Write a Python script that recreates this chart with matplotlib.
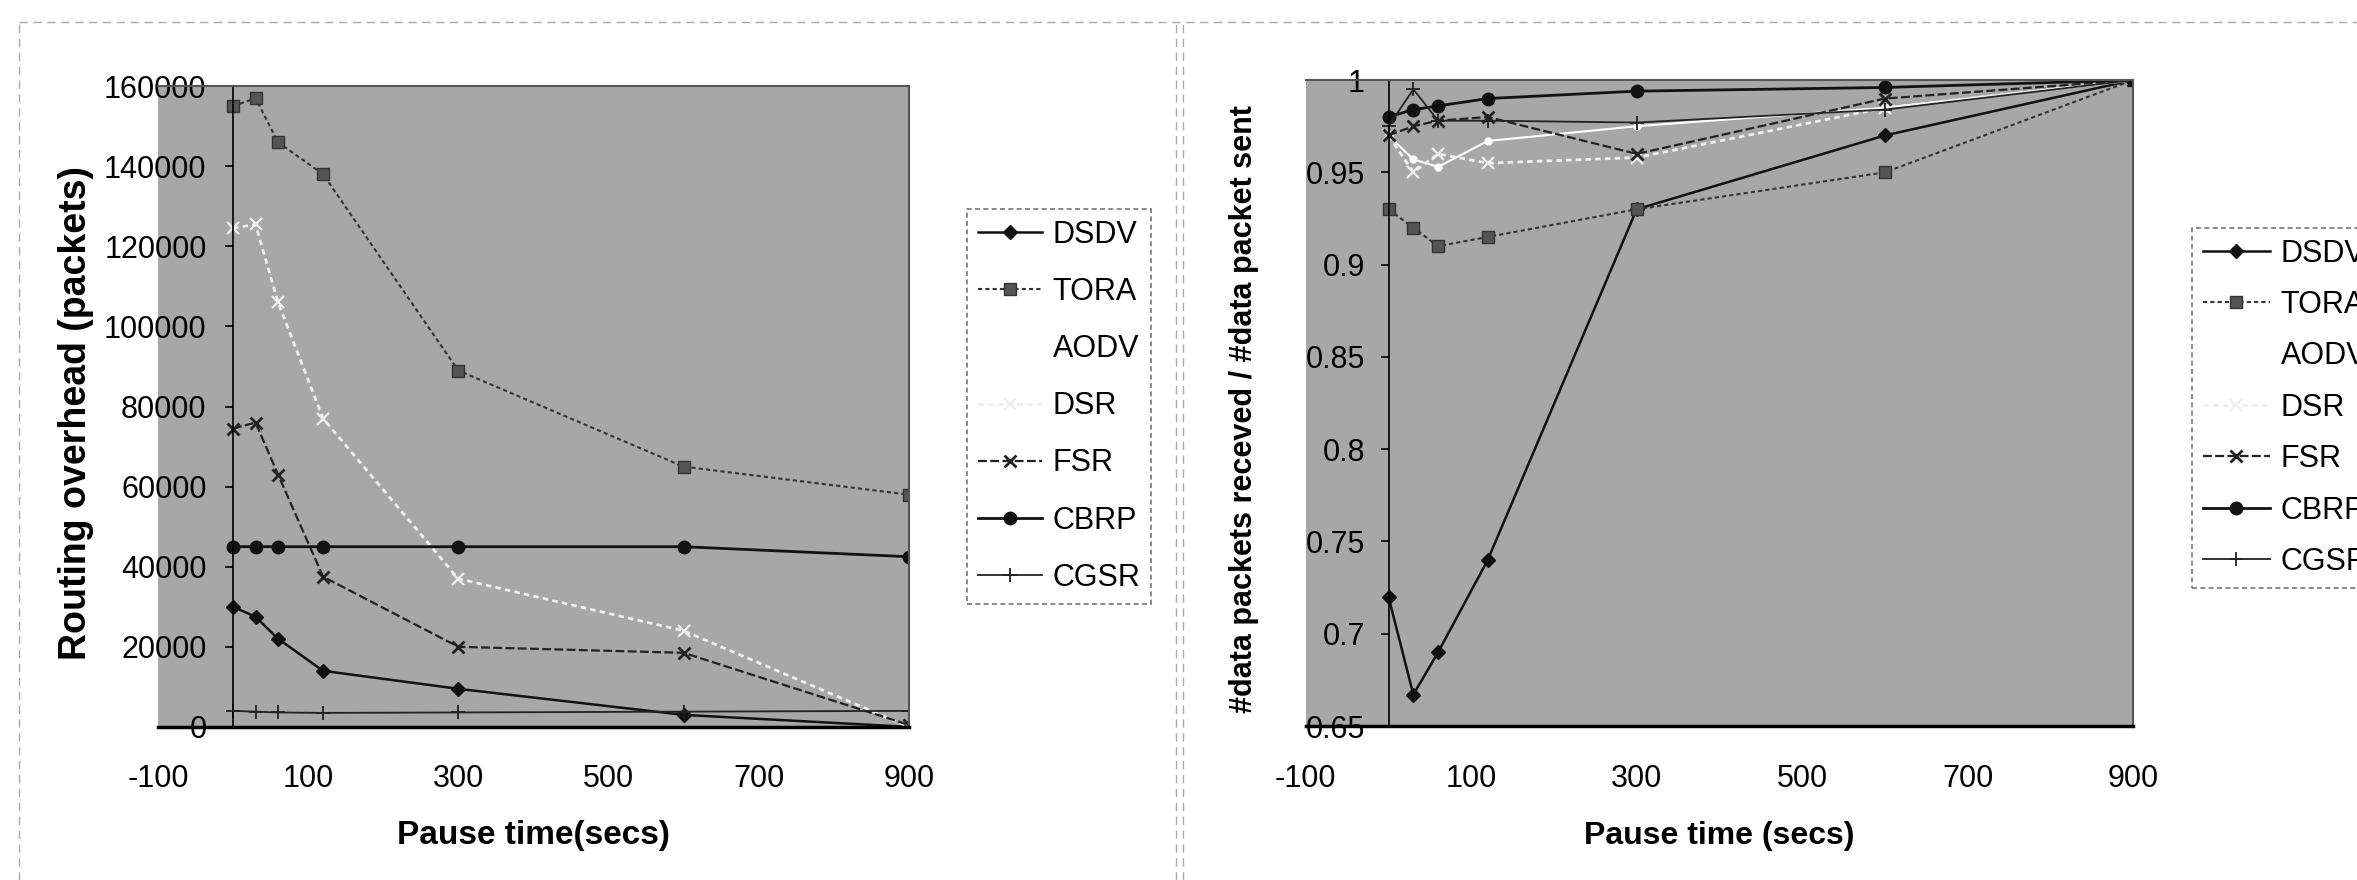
import matplotlib
matplotlib.use("Agg")
import matplotlib.pyplot as plt
from matplotlib.lines import Line2D

plt.rcParams["font.family"] = ["Liberation Sans", "DejaVu Sans"]
plt.rcParams["axes.unicode_minus"] = False

# ---- data ----
pause = [0, 30, 60, 120, 300, 600, 900]
protocols = ["DSDV", "TORA", "AODV", "DSR", "FSR", "CBRP", "CGSR"]

# routing overhead (packets)
oh_dsdv = [30000, 27500, 22000, 14000, 9500, 3000, 0]
oh_tora = [155000, 157000, 146000, 138000, 89000, 65000, 58000]
oh_aodv = []                       # not visible in the scan
oh_dsr = [124500, 125500, 106000, 77000, 37000, 24000, 0]
oh_fsr = [74500, 76000, 63000, 37500, 20000, 18500, 500]
oh_cbrp = [45000, 45000, 45000, 45000, 45000, 45000, 42500]
oh_cgsr = [4000, 3800, 3600, 3500, 3600, 3800, 4000]

# packet delivery ratio
pdr_dsdv = [0.72, 0.667, 0.69, 0.74, 0.93, 0.97, 1.0]
pdr_tora = [0.93, 0.92, 0.91, 0.915, 0.93, 0.95, 1.0]
pdr_aodv = [0.97, 0.957, 0.953, 0.967, 0.975, 0.985, 1.0]
pdr_dsr = [0.97, 0.95, 0.96, 0.955, 0.958, 0.985, 1.0]
pdr_fsr = [0.97, 0.975, 0.978, 0.98, 0.96, 0.99, 1.0]
pdr_cbrp = [0.98, 0.984, 0.986, 0.99, 0.994, 0.996, 1.0]
pdr_cgsr = [0.975, 0.995, 0.978, 0.978, 0.977, 0.984, 1.0]

overhead = [oh_dsdv, oh_tora, oh_aodv, oh_dsr, oh_fsr, oh_cbrp, oh_cgsr]
delivery = [pdr_dsdv, pdr_tora, pdr_aodv, pdr_dsr, pdr_fsr, pdr_cbrp, pdr_cgsr]

# line styles mimicking the old Excel b/w chart
STY = {
    "DSDV": dict(color="#111111", ls="-", marker="D", ms=7, mfc="#111111", lw=1.8),
    "TORA": dict(color="#333333", ls=(0, (2, 1.5)), marker="s", ms=8, mfc="#555555", lw=1.5),
    "AODV": dict(color="white", ls="-", marker="o", ms=5, mfc="white", mec="white", lw=1.5),
    "DSR": dict(color="#eeeeee", ls=(0, (2, 1.5)), marker="x", ms=9, mew=1.6, lw=2.0),
    "FSR": dict(color="#222222", ls=(0, (4, 1.5)), marker="x", ms=9, mew=2.0, lw=1.6),
    "CBRP": dict(color="#111111", ls="-", marker="o", ms=9, mfc="#111111", lw=2.0),
    "CGSR": dict(color="#222222", ls="-", marker="+", ms=10, mew=1.3, lw=1.3),
}
BG = "#a7a7a7"
TICK_FS = 22

fig = plt.figure(figsize=(23.57, 8.8), dpi=100)

# faint dashed chart-area borders from the scan
for xs, ys in [((0.008, 0.008), (0.0, 0.975)), ((0.499, 0.499), (0.0, 0.975)),
               ((0.502, 0.502), (0.0, 0.975)), ((0.008, 1.0), (0.975, 0.975))]:
    fig.add_artist(Line2D(xs, ys, transform=fig.transFigure, color="#aaaaaa",
                          ls=(0, (6, 4)), lw=1.0))


def style_axes(ax, ylim, yticks, fmt, ypad):
    ax.set_facecolor(BG)
    ax.set_xlim(-100, 900)
    ax.set_ylim(*ylim)
    ax.spines["left"].set_position(("data", 0))
    ax.spines["left"].set_linewidth(1.2)
    ax.spines["bottom"].set_linewidth(2.5)
    for s in ("top", "right"):
        ax.spines[s].set_linestyle((0, (1, 1)))
        ax.spines[s].set_color("#555555")
        ax.spines[s].set_linewidth(1.5)
    ax.set_xticks([-100, 100, 300, 500, 700, 900])
    ax.set_yticks(yticks)
    ax.set_yticklabels([fmt(v) for v in yticks])
    ax.tick_params(axis="x", length=0, labelsize=TICK_FS, pad=27)
    ax.tick_params(axis="y", length=6, width=1.2, labelsize=TICK_FS, pad=ypad)


def style_legend(ax, anchor, spacing, hlen):
    leg = ax.legend(loc="upper left", bbox_to_anchor=anchor,
                    bbox_transform=fig.transFigure, fontsize=22, frameon=True,
                    fancybox=False, labelspacing=spacing, handlelength=hlen,
                    borderpad=0.35, handletextpad=0.35, borderaxespad=0)
    leg.get_frame().set_linestyle((0, (3, 2)))
    leg.get_frame().set_edgecolor("#555555")
    leg.get_frame().set_linewidth(1.2)
    return leg


# ---- left: routing overhead ----
ax1 = fig.add_axes([0.067, 0.174, 0.3186, 0.728])
for name, ys in zip(protocols, overhead):
    ax1.plot(pause[:len(ys)], ys, label=name, **STY[name])
style_axes(ax1, (0, 160000), list(range(0, 160001, 20000)), lambda v: f"{v:d}", 13)
ax1.set_xlabel("Pause time(secs)", fontsize=24, fontweight="bold", va="top")
ax1.xaxis.set_label_coords(0.5, -0.145)
ax1.set_ylabel("Routing overhead (packets)", fontsize=27, fontweight="bold", va="center")
ax1.yaxis.set_label_coords(-0.109, 0.49)
style_legend(ax1, (0.4103, 0.7625), 0.89, 2.1)

# ---- right: delivery ratio ----
ax2 = fig.add_axes([0.554, 0.175, 0.351, 0.734])
for name, ys in zip(protocols, delivery):
    ax2.plot(pause[:len(ys)], ys, label=name, **STY[name])
style_axes(ax2, (0.65, 1.0), [0.65, 0.7, 0.75, 0.8, 0.85, 0.9, 0.95, 1.0],
           lambda v: f"{v:g}", 11)
ax2.set_xlabel("Pause time (secs)", fontsize=23, fontweight="bold", va="top")
ax2.xaxis.set_label_coords(0.5, -0.147)
ax2.set_ylabel("#data packets receved / #data packet sent", fontsize=22,
               fontweight="bold", va="center")
ax2.yaxis.set_label_coords(-0.075, 0.49)
# the scanned legend runs off the right edge of the page
style_legend(ax2, (0.930, 0.741), 0.70, 2.2)

fig.savefig("out.png", dpi=100)
